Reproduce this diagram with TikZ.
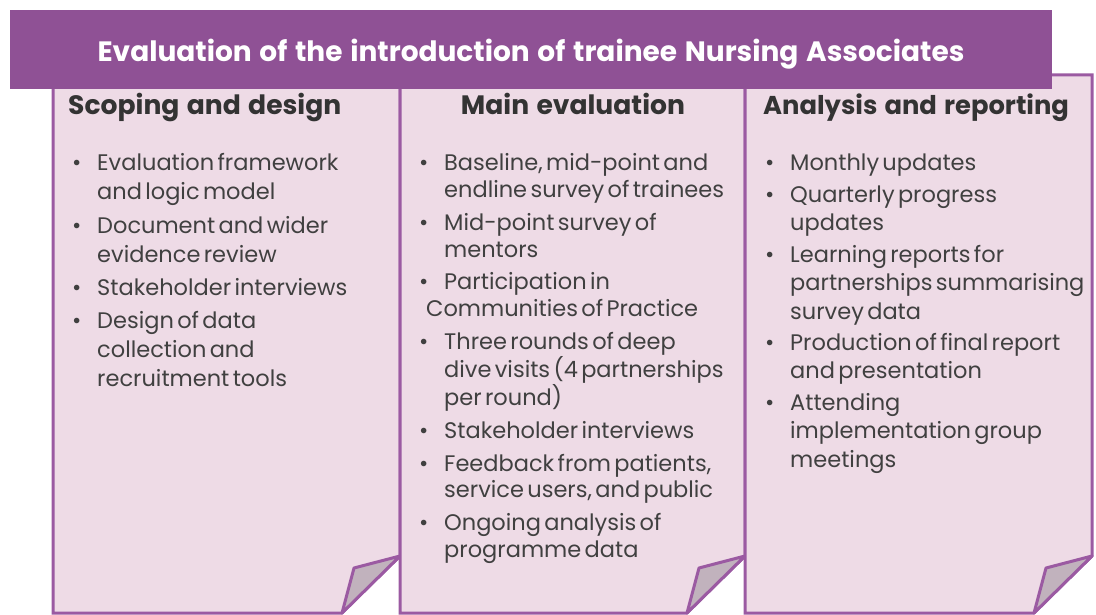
\documentclass[tikz,border=0pt]{standalone}
\usepackage{fontspec}
\setmainfont[WordSpace=1.3]{Poppins}
\usetikzlibrary{positioning}

\definecolor{barpurple}{RGB}{143,81,149}
\definecolor{edgepurple}{RGB}{155,90,162}
\definecolor{cardpink}{RGB}{238,219,230}
\definecolor{foldgrey}{RGB}{193,178,189}
\definecolor{inkgrey}{RGB}{64,64,64}
\definecolor{headgrey}{RGB}{51,51,51}

% one bullet item, hanging indent
\newcommand{\li}[1]{\hangindent=24pt\hangafter=1\noindent\makebox[24pt][l]{\hspace{-1pt}\textbullet}#1\par}

\tikzset{
  card/.style={draw=edgepurple, line width=3pt, fill=cardpink, line join=miter},
  flap/.style={draw=edgepurple, line width=3pt, fill=foldgrey, line join=round},
  head/.style={inner sep=0pt, text=headgrey, font=\fontsize{26.6}{30}\selectfont\bfseries},
  items/.style={inner sep=0pt, anchor=base west, text=inkgrey, text width=340pt},
}

\begin{document}
\begin{tikzpicture}[x=1pt, y=-1pt]

\def\cardtop{75}
\def\cardbot{613}
\path [use as bounding box] (0,0) rectangle (1096,615);

% CARDS (left, right)
\foreach \l/\r in {53/400, 400/745, 745/1092} {
  \filldraw [card] (\l,\cardtop) -- (\r,\cardtop) -- (\r,556) -- (\r-58,\cardbot) -- (\l,\cardbot) -- cycle;
  \filldraw [flap] (\r,556) -- (\r-46,568) -- (\r-58,\cardbot) -- cycle;
}

% TITLE
\fill [barpurple] (10,10) rectangle (1052,89);
\node (title) [inner sep=0pt, anchor=base, text=white, font=\fontsize{28}{30}\selectfont\bfseries] at (531,62)
  {Evaluation of the introduction of trainee Nursing Associates};

% HEADINGS
\node (scope) [head, anchor=base west] at (68,115) {Scoping and design};
\node (main) [head, anchor=base] at (573,115) {Main evaluation};
\node (report) [head, anchor=base west, font=\fontsize{25.8}{30}\selectfont\bfseries] at (763,115) {Analysis and reporting};

% ITEMS
\node (scopelist) [items] at (73,171) {\raggedright\fontsize{22.5}{29}\selectfont\parskip=4.3pt
  \li{Evaluation framework\newline and logic model}
  \li{Document and wider\newline evidence review}
  \li{Stakeholder interviews}
  \li{Design of data\newline collection and\newline recruitment tools}};

\node (mainlist) [items] at (420,171) {\raggedright\fontsize{22.5}{26.6}\selectfont\parskip=6.3pt
  \li{Baseline, mid-point and\newline endline survey of trainees}
  \li{Mid-point survey of\newline mentors}
  \li{Participation in\newline\hspace*{-18pt}Communities of Practice}
  \li{Three rounds of deep\newline dive visits (4 partnerships\newline per round)}
  \li{Stakeholder interviews}
  \li{Feedback from patients,\newline service users, and public}
  \li{Ongoing analysis of\newline programme data}};

\node (reportlist) [items] at (766,171) {\raggedright\fontsize{22.5}{28.3}\selectfont\parskip=3.3pt
  \li{Monthly updates}
  \li{Quarterly progress\newline updates}
  \li{Learning reports for\newline partnerships summarising\newline survey data}
  \li{Production of final report\newline and presentation}
  \li{Attending\newline implementation group\newline meetings}};

\end{tikzpicture}
\end{document}
